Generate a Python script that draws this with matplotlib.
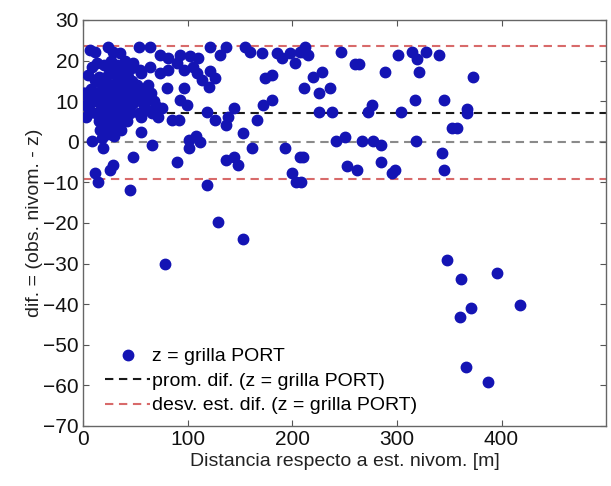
import matplotlib
matplotlib.use("Agg")
import matplotlib.pyplot as plt

plt.rcParams['font.family'] = ['Liberation Sans', 'DejaVu Sans']

# Distance [m] and difference values
dist = [
    # dense cluster close to station
    10, 12, 14, 15, 17, 18, 19, 20, 21, 22, 23, 24, 25, 25, 26, 27, 28, 28, 29, 30,
    30, 31, 32, 32, 33, 33, 34, 35, 35, 36, 37, 38, 38, 39, 40, 41, 42, 43, 44, 45,
    46, 47, 48, 50, 52, 54, 56, 58, 60, 62, 65, 20, 27, 15, 12, 8, 6, 5, 3, 18,
    24, 30, 36, 42, 45, 53, 66, 68, 40, 45, 55, 1, 3, 6,
    # rest, 0-210 m
    6.7, 11.5, 24, 29, 35, 53, 64, 73.6, 81.6, 92.7, 102, 110, 121, 131, 137, 155, 160, 171, 185, 190,
    198, 207, 203, 8.3, 13, 5, 11.5, 48, 54.5, 64, 73.6, 81.6, 89.6, 96, 105.5, 108.7, 113.5, 120, 121.5, 126,
    174, 180.5, 80, 96, 1, 15, 23, 29, 16.5, 48, 55, 61, 55, 70, 75, 72, 85, 92, 93, 99.5,
    118, 126, 137, 144, 139, 166, 172.4, 180.5, 153, 8.3, 19.5, 66, 101, 107.5, 112, 101, 161, 193, 207, 48,
    89.6, 29, 26, 137, 144, 148.5, 11.5, 14.6, 199.5, 204, 45, 118, 129,
    # 200-380 m
    212, 215.4, 210.6, 247, 260, 264, 288.7, 301.5, 314, 319, 328, 340, 320.7, 373, 220, 228, 211, 226, 236, 317,
    345, 226, 238, 272, 276, 303.5, 367, 367, 353, 357, 242, 250, 267, 277, 285, 318.5, 210, 343, 285, 252,
    261.5, 298, 295, 345, 208.6,
    # outliers
    153, 78, 348, 361, 360, 371, 395.5, 418, 366, 387,
]
dif = [
    10, 7, 12, 5, 9, 14, 3, 11, 7, 16, 13, 9, 5, 18, 11, 14, 7, 3, 17, 10,
    13, 6, 19, 15, 9, 12, 4, 16, 11, 8, 13, 18, 6, 10, 14, 12, 8, 16, 11, 13,
    9, 15, 12, 10, 14, 11, 13, 9, 11, 14, 12, 19, 20, 16, 15, 13, 8, 11, 6, 1,
    2, 1.5, 3, 5, 7, 7, 7, 10, 20, 18, 17, 12, 9, 7,
    22.6, 22.2, 23.4, 22.2, 21.8, 23.4, 23.4, 21.4, 20.6, 21.4, 21, 20.6, 23.4, 21.4, 23.4, 23.4, 22.2, 21.8, 21.8, 20.6,
    21.8, 22.2, 19.3, 18.5, 19.3, 16.5, 15.2, 19.3, 17.7, 18.5, 16.9, 17.7, 19.3, 17.7, 18.5, 16.9, 15.2, 13.6, 17.3, 15.6,
    15.6, 16.5, 13.2, 13.2, 12, 6.2, 3.7, 1.7, 2.9, 9.5, 6.2, 7.8, 2.5, 8.7, 8.2, 6.2, 5.4, 5.4, 10.3, 9.1,
    7.4, 5.4, 4.1, 8.2, 6.2, 5.4, 9.1, 10.3, 2.1, 0.3, -1.6, -0.8, 0.4, 1.3, 0, -1.6, -1.6, -1.6, -3.7, -3.7,
    -4.9, -5.7, -7, -4.5, -3.7, -5.7, -7.8, -9.8, -7.8, -9.8, -11.9, -10.6, -19.7,
    23.4, 21.4, 22.2, 22.2, 19.2, 19.2, 17.1, 21.4, 22.2, 20.3, 22.2, 21.4, 17.1, 16.0, 16.0, 17.1, 13.2, 12.1, 13.2, 10.3,
    10.3, 7.4, 7.4, 7.4, 9.1, 7.4, 8.0, 7.0, 3.3, 3.3, 0.3, 1.1, 0.3, 0.3, -0.8, 0.3, -3.7, -2.8, -4.9, -5.9,
    -7, -7, -7.8, -7, -9.8,
    -24, -30.1, -29.1, -33.9, -43.2, -41, -32.3, -40.2, -55.5, -59.1,
]

prom_dif = 7.2      # mean difference
desv_dif = 16.3     # standard deviation

x_ticks = [0, 100, 200, 300, 400]
y_ticks = [30, 20, 10, 0, -10, -20, -30, -40, -50, -60, -70]

fig = plt.figure(figsize=(6.11, 4.86), dpi=100)
ax = fig.add_axes([0.136, 0.1235, 0.856, 0.8355])

dash = (0, (4, 2.7))
ax.axhline(0, color='#8a8a8a', lw=1.5, ls=dash, zorder=1)
ax.plot(dist, dif, 'o', color='#1414b4', ms=7.5, mec='#1414b4', zorder=3,
        label='z = grilla PORT')
ax.axhline(prom_dif, color='#1a1a1a', lw=1.5, ls=dash, zorder=2,
           label='prom. dif. (z = grilla PORT)')
ax.axhline(prom_dif + desv_dif, color='#d86a6a', lw=1.5, ls=dash, zorder=2,
           label='desv. est. dif. (z = grilla PORT)')
ax.axhline(prom_dif - desv_dif, color='#d86a6a', lw=1.5, ls=dash, zorder=2)

ax.set_xlim(0, 500)
ax.set_ylim(-70, 30)
ax.set_xticks(x_ticks)
ax.set_yticks(y_ticks)
ax.tick_params(direction='in', length=4, top=True, right=True, labelsize=15,
               color='#555555', labelcolor='#111111', pad=3)
for s in ax.spines.values():
    s.set_color('#666666')
    s.set_linewidth(1.0)

ax.set_xlabel('Distancia respecto a est. nivom. [m]', fontsize=14, color='#222222', labelpad=3)
ax.set_ylabel('dif. = (obs. nivom. - z)', fontsize=14, color='#222222', labelpad=0)

leg = ax.legend(loc='lower left', bbox_to_anchor=(0.02, 0.0), frameon=False,
                fontsize=14, handlelength=2.3, handletextpad=0.1, labelspacing=0.35,
                borderaxespad=0.2)

fig.savefig('out.png', dpi=100, facecolor='white')
